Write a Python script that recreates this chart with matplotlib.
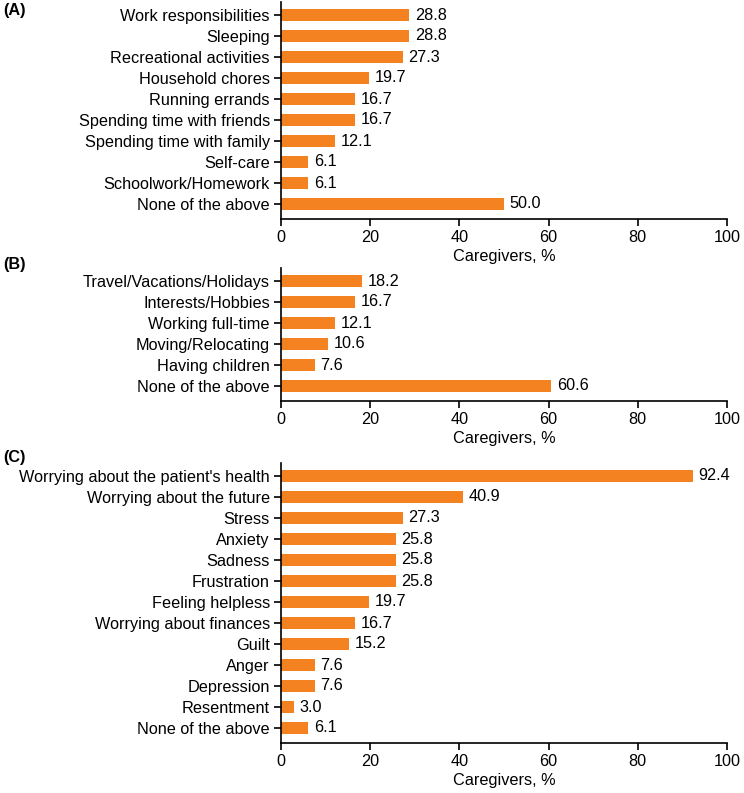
import matplotlib
matplotlib.use('Agg')
import matplotlib.pyplot as plt

plt.rcParams['font.family'] = ['Liberation Sans', 'DejaVu Sans']

# panel A data
a_labels = ['Work responsibilities', 'Sleeping', 'Recreational activities',
            'Household chores', 'Running errands', 'Spending time with friends',
            'Spending time with family', 'Self-care', 'Schoolwork/Homework',
            'None of the above']
a_values = [28.8, 28.8, 27.3, 19.7, 16.7, 16.7, 12.1, 6.1, 6.1, 50.0]

# panel B data
b_labels = ['Travel/Vacations/Holidays', 'Interests/Hobbies', 'Working full-time',
            'Moving/Relocating', 'Having children', 'None of the above']
b_values = [18.2, 16.7, 12.1, 10.6, 7.6, 60.6]

# panel C data
c_labels = ["Worrying about the patient's health", 'Worrying about the future',
            'Stress', 'Anxiety', 'Sadness', 'Frustration', 'Feeling helpless',
            'Worrying about finances', 'Guilt', 'Anger', 'Depression',
            'Resentment', 'None of the above']
c_values = [92.4, 40.9, 27.3, 25.8, 25.8, 25.8, 19.7, 16.7, 15.2, 7.6, 7.6, 3.0, 6.1]

x_ticks = [0, 20, 40, 60, 80, 100]

W, H = 744, 793
BAR_COLOR = '#F58220'
FS = 11.7
STEP = 21.0        # px between bars
TOP_PAD = 0.6      # in bar units
BOT_PAD = 0.7
X0, X1 = 281, 727  # px of 0 and 100


def panel(fig, labels, values, first_y, tag, tag_y):
    n = len(labels)
    top_px = first_y - TOP_PAD * STEP
    bot_px = first_y + (n - 1 + BOT_PAD) * STEP
    ax = fig.add_axes([X0 / W, 1 - bot_px / H, (X1 - X0) / W, (bot_px - top_px) / H])
    ypos = list(range(n))
    ax.barh(ypos, values, height=0.6, color=BAR_COLOR)
    for y, v in zip(ypos, values):
        ax.annotate(f'{v:.1f}', (v, y), xytext=(4, 0), textcoords='offset points',
                    va='center', ha='left', fontsize=FS)
    ax.set_ylim(n - 1 + BOT_PAD, -TOP_PAD)
    ax.set_xlim(0, 100)
    ax.set_yticks(ypos)
    ax.set_yticklabels(labels, fontsize=FS)
    ax.set_xticks(x_ticks)
    ax.set_xticklabels([str(t) for t in x_ticks], fontsize=FS)
    ax.set_xlabel('Caregivers, %', fontsize=FS, labelpad=3)
    ax.spines['top'].set_visible(False)
    ax.spines['right'].set_visible(False)
    for s in ('left', 'bottom'):
        ax.spines[s].set_linewidth(1.2)
    ax.tick_params(axis='both', length=5, width=1.2, pad=3)
    fig.text(3 / W, 1 - tag_y / H, tag, fontsize=FS, fontweight='bold',
             ha='left', va='center')
    return ax


fig = plt.figure(figsize=(W / 100, H / 100), dpi=100)
panel(fig, a_labels, a_values, 15, '(A)', 10)
panel(fig, b_labels, b_values, 281, '(B)', 265)
panel(fig, c_labels, c_values, 476, '(C)', 457)

fig.savefig('out.png', dpi=100)
